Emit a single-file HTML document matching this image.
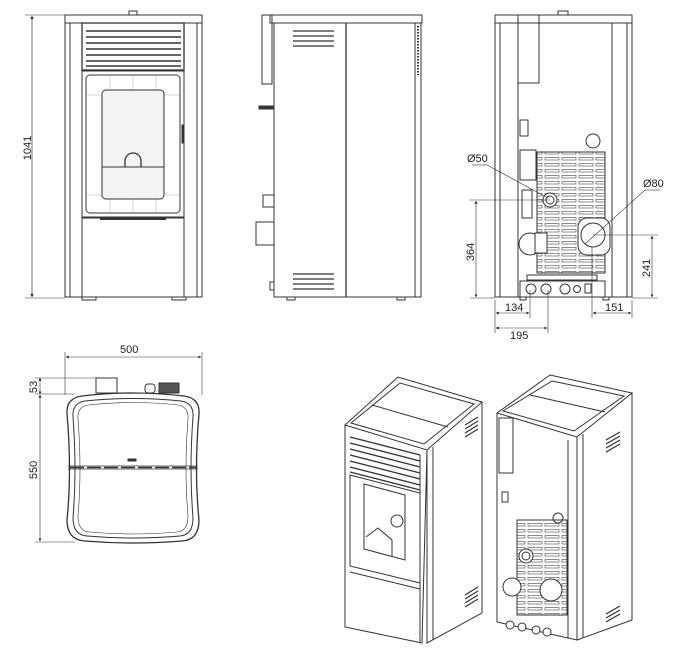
<!DOCTYPE html>
<html><head><meta charset="utf-8"><style>
html,body{margin:0;padding:0;background:#fff}
svg{display:block}
text{font-family:"Liberation Sans",sans-serif;font-size:11px;fill:#222}
</style></head><body>
<svg width="676" height="660" viewBox="0 0 676 660" xmlns="http://www.w3.org/2000/svg">
<defs>
<pattern id="slots" x="0" y="0" width="17" height="6" patternUnits="userSpaceOnUse">
<rect x="1" y="1.5" width="14" height="2.5" fill="none" stroke="#444" stroke-width="0.6"/>
</pattern>
<marker id="ar" viewBox="0 0 6 6" refX="5.5" refY="3" markerWidth="5" markerHeight="5" orient="auto-start-reverse"><path d="M0,0 L6,3 L0,6z" fill="#222"/></marker>
</defs>
<g fill="none" stroke="#333" stroke-width="1">
<!-- FRONT VIEW -->
<rect x="65" y="15" width="137" height="8"/>
<rect x="129" y="11" width="8" height="4"/>
<rect x="65" y="23" width="17" height="274"/>
<rect x="184" y="23" width="18" height="274"/>
<line x1="70" y1="23" x2="70" y2="297"/><line x1="197" y1="23" x2="197" y2="297"/>
<rect x="82" y="23" width="102" height="47" stroke-width="1.3"/>
<g stroke-width="1.4"><line x1="86" y1="31" x2="181" y2="31"/><line x1="86" y1="37" x2="181" y2="37"/><line x1="86" y1="43" x2="181" y2="43"/><line x1="86" y1="49" x2="181" y2="49"/><line x1="86" y1="55" x2="181" y2="55"/><line x1="86" y1="61" x2="181" y2="61"/><line x1="86" y1="66" x2="181" y2="66"/></g>
<rect x="82" y="71" width="102" height="146"/>
<rect x="86" y="75" width="94" height="138" rx="4"/>
<g stroke-width="0.4" stroke="#999"><line x1="110" y1="75" x2="110" y2="213"/><line x1="133" y1="75" x2="133" y2="213"/><line x1="156" y1="75" x2="156" y2="213"/><line x1="86" y1="95" x2="180" y2="95"/><line x1="86" y1="195" x2="180" y2="195"/></g>
<rect x="102" y="90" width="62" height="109" rx="4" fill="#f3f3f3"/>
<line x1="102" y1="167" x2="164" y2="167"/>
<path d="M125,167 v-6 a8,8 0 0 1 16,0 v6" stroke-width="1.3"/>
<rect x="182" y="125" width="2" height="18" fill="#333"/>
<rect x="82" y="218" width="102" height="79"/>
<line x1="100" y1="219" x2="166" y2="219" stroke-width="2"/>
<rect x="82" y="297" width="14" height="3"/><rect x="172" y="297" width="14" height="3"/>
<line x1="25" y1="15" x2="65" y2="15" stroke-width="0.6"/><line x1="25" y1="298" x2="65" y2="298" stroke-width="0.6"/>
<line x1="32" y1="16" x2="32" y2="297" stroke-width="0.7" marker-start="url(#ar)" marker-end="url(#ar)"/>

<!-- SIDE VIEW -->
<rect x="270" y="15" width="152" height="8"/>
<rect x="262" y="15" width="10" height="69"/>
<rect x="274" y="23" width="141" height="274"/>
<rect x="415" y="23" width="6" height="274"/>
<line x1="346" y1="23" x2="346" y2="297" stroke-width="1.3"/>
<g stroke-width="1.3"><line x1="293" y1="31" x2="334" y2="31"/><line x1="293" y1="36" x2="334" y2="36"/><line x1="293" y1="41" x2="334" y2="41"/><line x1="293" y1="46" x2="334" y2="46"/>
<line x1="293" y1="274" x2="334" y2="274"/><line x1="293" y1="279" x2="334" y2="279"/><line x1="293" y1="284" x2="334" y2="284"/><line x1="293" y1="289" x2="334" y2="289"/></g>
<line x1="418" y1="26" x2="418" y2="75" stroke-width="2" stroke-dasharray="1.5 1.5"/>
<rect x="259" y="106" width="15" height="3" fill="#333"/>
<rect x="263" y="195" width="11" height="12"/>
<rect x="256" y="222" width="18" height="23"/>
<rect x="270" y="282" width="4" height="8"/>
<rect x="287" y="297" width="8" height="3"/><rect x="397" y="297" width="8" height="3"/>

<!-- BACK VIEW -->
<rect x="495" y="15" width="137" height="8"/>
<rect x="558" y="11" width="10" height="4"/>
<rect x="495" y="23" width="23" height="274"/>
<rect x="612" y="23" width="20" height="274"/>
<line x1="500" y1="23" x2="500" y2="297"/><line x1="627" y1="23" x2="627" y2="297"/>
<rect x="518" y="23" width="94" height="274"/>
<rect x="518" y="15" width="21" height="68"/>
<circle cx="593" cy="141" r="7"/>
<rect x="520" y="120" width="8" height="16"/>
<rect x="537" y="152" width="68" height="121" fill="url(#slots)"/>
<rect x="520" y="150" width="16" height="30"/>
<rect x="522" y="190" width="10" height="28"/>
<circle cx="550" cy="200" r="7" fill="#fff"/><circle cx="550" cy="200" r="4"/>
<rect x="578" y="218" width="32" height="37" rx="9" fill="#fff"/>
<circle cx="593" cy="235" r="12"/>
<circle cx="530" cy="244" r="11" fill="#fff"/><rect x="535" y="233" width="12" height="20" fill="#fff"/>
<rect x="527" y="275" width="70" height="5"/>
<rect x="520" y="281" width="85" height="16"/>
<circle cx="531" cy="289" r="5"/><circle cx="546" cy="289" r="5"/><circle cx="565" cy="289" r="5"/><circle cx="577" cy="289" r="3.5"/><rect x="585" y="284" width="6" height="9"/>
<rect x="520" y="297" width="6" height="3"/><rect x="603" y="297" width="6" height="3"/>
<g stroke-width="0.6">
<line x1="470" y1="200" x2="550" y2="200"/><line x1="470" y1="298" x2="495" y2="298"/>
<line x1="476" y1="201" x2="476" y2="297" marker-start="url(#ar)" marker-end="url(#ar)"/>
<line x1="593" y1="235" x2="658" y2="235"/><line x1="632" y1="298" x2="658" y2="298"/>
<line x1="652" y1="236" x2="652" y2="297" marker-start="url(#ar)" marker-end="url(#ar)"/>
<line x1="472" y1="165" x2="487" y2="165"/><line x1="487" y1="165" x2="548" y2="198"/>
<line x1="660" y1="190" x2="645" y2="190"/><line x1="645" y1="190" x2="585" y2="244"/>
<line x1="495" y1="300" x2="495" y2="333"/><line x1="530" y1="290" x2="530" y2="318"/><line x1="548" y1="290" x2="548" y2="333"/>
<line x1="592" y1="247" x2="592" y2="318"/><line x1="632" y1="300" x2="632" y2="318"/>
<line x1="496" y1="313" x2="529" y2="313" marker-start="url(#ar)" marker-end="url(#ar)"/>
<line x1="496" y1="328" x2="547" y2="328" marker-start="url(#ar)" marker-end="url(#ar)"/>
<line x1="593" y1="313" x2="631" y2="313" marker-start="url(#ar)" marker-end="url(#ar)"/>
</g>

<!-- TOP VIEW -->
<g stroke-width="0.6">
<line x1="65" y1="352" x2="65" y2="395"/><line x1="202" y1="352" x2="202" y2="395"/>
<line x1="66" y1="357" x2="201" y2="357" marker-start="url(#ar)" marker-end="url(#ar)"/>
<line x1="35" y1="378" x2="96" y2="378"/><line x1="35" y1="394" x2="75" y2="394"/><line x1="35" y1="542" x2="75" y2="542"/>
<line x1="40" y1="378" x2="40" y2="394" marker-start="url(#ar)" marker-end="url(#ar)"/>
<line x1="40" y1="395" x2="40" y2="541" marker-start="url(#ar)" marker-end="url(#ar)"/>
</g>
<rect x="96" y="378" width="21" height="15"/>
<rect x="145" y="384" width="10" height="9" rx="3"/>
<rect x="159" y="383" width="20" height="10" fill="#555"/>
<path d="M82,396 Q133,390 184,396 Q200,398 199,414 Q194,470 199,520 Q199,540 182,541 Q133,545 85,541 Q67,540 67,520 Q72,470 67,414 Q66,398 82,396Z" stroke-width="1.3"/>
<path d="M85,401 Q133,396 181,401 Q194,403 193,417 Q189,470 193,518 Q193,535 180,536 Q133,540 87,536 Q73,535 73,518 Q77,470 73,417 Q72,403 85,401Z"/>
<path d="M88,405 Q133,400 178,405 Q189,407 188,419 Q184,470 188,516 Q188,531 177,532 Q133,536 89,532 Q78,531 78,516 Q82,470 78,419 Q77,407 88,405Z" stroke-width="0.6"/>
<line x1="68" y1="466" x2="198" y2="466" stroke-width="0.8"/>
<line x1="68" y1="469" x2="198" y2="469" stroke-width="0.8"/>
<line x1="70" y1="467.5" x2="196" y2="467.5" stroke-width="1.5" stroke-dasharray="14 3"/>
<rect x="128" y="459" width="8" height="2" fill="#333"/>

<!-- ISO FRONT -->
<path d="M345,425 L398,377 L482,402 L427,450 Z"/>
<path d="M351,423 L400,383 L474,404 L424,444 Z"/>
<line x1="372" y1="405" x2="448" y2="427"/>
<path d="M345,425 L345,627 L422,643 L427,450"/>
<path d="M427,450 L427,643 L482,613 L482,402"/>
<line x1="420" y1="455" x2="420" y2="643"/><line x1="433" y1="447" x2="433" y2="640"/>
<g stroke-width="1.3">
<line x1="350" y1="437" x2="420" y2="455"/><line x1="350" y1="443" x2="420" y2="461"/><line x1="350" y1="449" x2="420" y2="467"/><line x1="350" y1="455" x2="420" y2="473"/><line x1="350" y1="461" x2="420" y2="479"/><line x1="350" y1="467" x2="420" y2="485"/><line x1="350" y1="472" x2="420" y2="490"/>
</g>
<path d="M350,475 L420,493 L420,583 L350,566 Z"/>
<path d="M364,484 L405,495 L405,560 L364,549 Z"/>
<line x1="350" y1="572" x2="420" y2="589"/>
<circle cx="397" cy="521" r="6"/>
<path d="M366,537 L378,528 L392,540 L392,556"/>
<g stroke-width="1.2"><line x1="465" y1="425" x2="478" y2="417"/><line x1="465" y1="429" x2="478" y2="421"/><line x1="465" y1="433" x2="478" y2="425"/><line x1="465" y1="437" x2="478" y2="429"/>
<line x1="465" y1="595" x2="478" y2="587"/><line x1="465" y1="599" x2="478" y2="591"/><line x1="465" y1="603" x2="478" y2="595"/><line x1="465" y1="607" x2="478" y2="599"/></g>

<!-- ISO BACK -->
<path d="M497,413 L550,375 L632,393 L577,437 Z"/>
<path d="M503,411 L552,381 L624,396 L574,431 Z"/>
<line x1="530" y1="395" x2="605" y2="412"/>
<path d="M497,413 L497,622 L577,640 L577,437"/>
<path d="M577,437 L577,640 L632,620 L632,393"/>
<line x1="568" y1="440" x2="568" y2="638"/><line x1="583" y1="434" x2="583" y2="637"/>
<rect x="499" y="418" width="14" height="55"/>
<rect x="517" y="520" width="50" height="95" fill="url(#slots)"/>
<circle cx="526" cy="556" r="7" fill="#fff"/><circle cx="526" cy="556" r="4"/>
<circle cx="551" cy="590" r="11" fill="#fff"/>
<circle cx="512" cy="587" r="9" fill="#fff"/>
<circle cx="510" cy="625" r="4" fill="#fff"/><circle cx="522" cy="627" r="4" fill="#fff"/><circle cx="536" cy="630" r="4" fill="#fff"/><circle cx="547" cy="632" r="4" fill="#fff"/>
<circle cx="558" cy="518" r="5"/>
<rect x="502" y="492" width="6" height="10"/>
<g stroke-width="1.2"><line x1="606" y1="440" x2="620" y2="432"/><line x1="606" y1="444" x2="620" y2="436"/><line x1="606" y1="448" x2="620" y2="440"/><line x1="606" y1="452" x2="620" y2="444"/>
<line x1="606" y1="614" x2="620" y2="606"/><line x1="606" y1="618" x2="620" y2="610"/><line x1="606" y1="622" x2="620" y2="614"/></g>
</g>
<text transform="translate(31,148) rotate(-90)" text-anchor="middle">1041</text>
<text transform="translate(474,252) rotate(-90)" text-anchor="middle">364</text>
<text transform="translate(650,268) rotate(-90)" text-anchor="middle">241</text>
<text x="467" y="162">Ø50</text>
<text x="643" y="187">Ø80</text>
<text x="505" y="311">134</text>
<text x="510" y="339">195</text>
<text x="605" y="311">151</text>
<text x="120" y="353">500</text>
<text transform="translate(37,387) rotate(-90)" text-anchor="middle">53</text>
<text transform="translate(37,470) rotate(-90)" text-anchor="middle">550</text>
</svg>
</body></html>
